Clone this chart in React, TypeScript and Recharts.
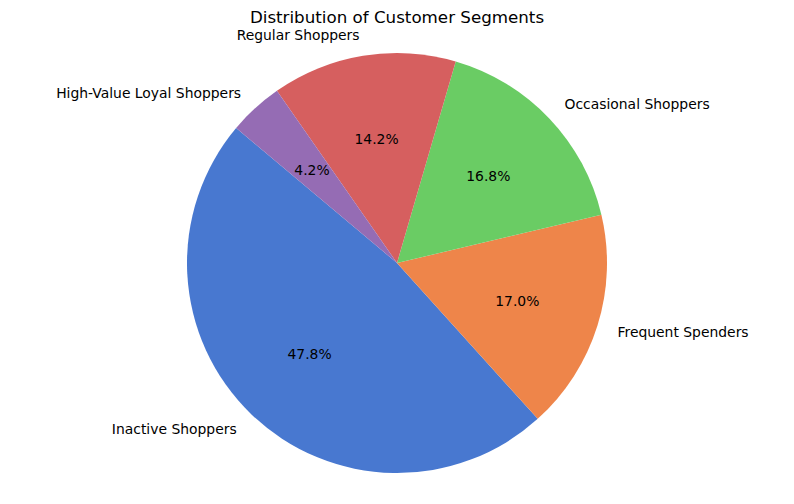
import { Cell, Pie, PieChart } from "recharts";

const segments = [
  "Inactive Shoppers",
  "Frequent Spenders",
  "Occasional Shoppers",
  "Regular Shoppers",
  "High-Value Loyal Shoppers",
];
const shares = [47.8, 17.0, 16.8, 14.2, 4.2];
const colors = ["#4878d0", "#ee854a", "#6acc64", "#d65f5f", "#956cb4"];

const data = segments.map((name, i) => ({ name, value: shares[i] }));

const RAD = Math.PI / 180;
const FONT = "'DejaVu Sans', sans-serif";

const renderLabel = (props: any) => {
  const { cx, cy, midAngle, outerRadius, index } = props;
  const cos = Math.cos(-midAngle * RAD);
  const sin = Math.sin(-midAngle * RAD);
  const lx = cx + outerRadius * 1.1 * cos;
  const ly = cy + outerRadius * 1.1 * sin;
  const px = cx + outerRadius * 0.6 * cos;
  const py = cy + outerRadius * 0.6 * sin;
  return (
    <g key={`lbl-${index}`}>
      <text
        x={lx}
        y={ly}
        fill="#000"
        fontSize={13.9}
        fontFamily={FONT}
        textAnchor={cos >= 0 ? "start" : "end"}
        dominantBaseline="central"
      >
        {segments[index]}
      </text>
      <text
        x={px}
        y={py}
        fill="#000"
        fontSize={13.9}
        fontFamily={FONT}
        textAnchor="middle"
        dominantBaseline="central"
      >
        {`${shares[index].toFixed(1)}%`}
      </text>
    </g>
  );
};

export default function App() {
  return (
    <div
      style={{
        position: "absolute",
        left: 0,
        top: 0,
        width: 794,
        height: 504,
        background: "#fff",
      }}
    >
      <div
        style={{
          position: "absolute",
          top: 7,
          width: 794,
          textAlign: "center",
          fontFamily: FONT,
          fontSize: 16.7,
          color: "#000",
          lineHeight: "20px",
        }}
      >
        Distribution of Customer Segments
      </div>
      <PieChart width={794} height={504}>
        <Pie
          data={data}
          dataKey="value"
          nameKey="name"
          cx={392}
          cy={258}
          outerRadius={210}
          startAngle={140}
          endAngle={500}
          stroke="none"
          label={renderLabel}
          labelLine={false}
          isAnimationActive={false}
        >
          {data.map((d, i) => (
            <Cell key={`cell-${d.name}`} fill={colors[i]} />
          ))}
        </Pie>
      </PieChart>
    </div>
  );
}
